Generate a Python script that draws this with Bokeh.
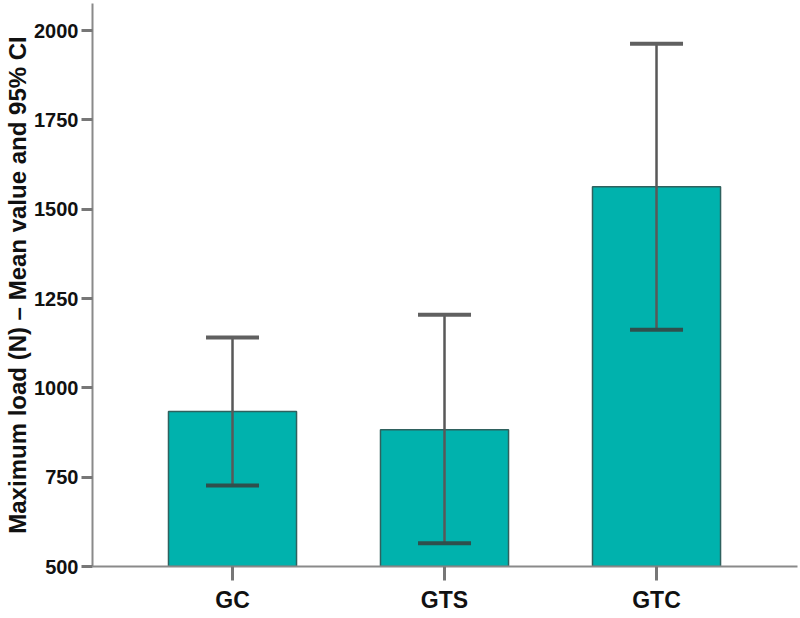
from bokeh.plotting import figure
from bokeh.models import ColumnDataSource, Whisker, TeeHead, FixedTicker, Range1d
from bokeh.embed import file_html
from bokeh.resources import INLINE

groups = ["GC", "GTS", "GTC"]
positions = [1, 2, 3]
means = [934, 883, 1563]
ci_lower = [727, 565, 1163]
ci_upper = [1141, 1205, 1963]
y_ticks = [500, 750, 1000, 1250, 1500, 1750, 2000]

src = ColumnDataSource(dict(x=positions, top=means, lower=ci_lower, upper=ci_upper))

p = figure(width=800, height=618, output_backend="svg", toolbar_location=None,
           x_range=Range1d(0.3396, 3.665), y_range=Range1d(500, 2076),
           min_border_left=92, min_border_right=3, min_border_top=3, min_border_bottom=52)

p.vbar(x="x", top="top", bottom=500, width=0.604, source=src,
       fill_color="#00B2AD", line_color="#2F615E", line_width=1.5)

w = Whisker(base="x", upper="upper", lower="lower", source=src,
            line_color="#585858", line_width=2.5,
            upper_head=TeeHead(size=53, line_color="#606060", line_width=4),
            lower_head=TeeHead(size=53, line_color="#2F4F4D", line_width=4))
w.level = "overlay"
p.add_layout(w)

p.xgrid.visible = False
p.ygrid.visible = False
p.outline_line_color = None

p.xaxis.ticker = FixedTicker(ticks=positions)
p.xaxis.major_label_overrides = {pos: g for pos, g in zip(positions, groups)}
p.yaxis.ticker = FixedTicker(ticks=y_ticks)

for ax in (p.xaxis, p.yaxis):
    ax.axis_line_color = "#8a8a8a"
    ax.axis_line_width = 2
    ax.major_tick_line_color = "#777777"
    ax.major_tick_line_width = 3
    ax.minor_tick_line_color = None
    ax.major_tick_in = 0
    ax.major_label_text_font = "Liberation Sans"
    ax.major_label_text_font_style = "bold"
    ax.major_label_text_color = "#111111"

p.xaxis.major_tick_out = 14
p.xaxis.major_label_standoff = 6
p.xaxis.major_label_text_font_size = "23px"

p.yaxis.major_tick_out = 11
p.yaxis.major_label_standoff = 3
p.yaxis.major_label_text_font_size = "20px"
p.yaxis.axis_label = "Maximum load (N) \u2013 Mean value and 95% CI"
p.yaxis.axis_label_text_font = "Liberation Sans"
p.yaxis.axis_label_text_font_style = "bold"
p.yaxis.axis_label_text_font_size = "24px"
p.yaxis.axis_label_text_color = "#111111"
p.yaxis.axis_label_standoff = 0

open("out.html", "w").write(file_html(p, INLINE))
